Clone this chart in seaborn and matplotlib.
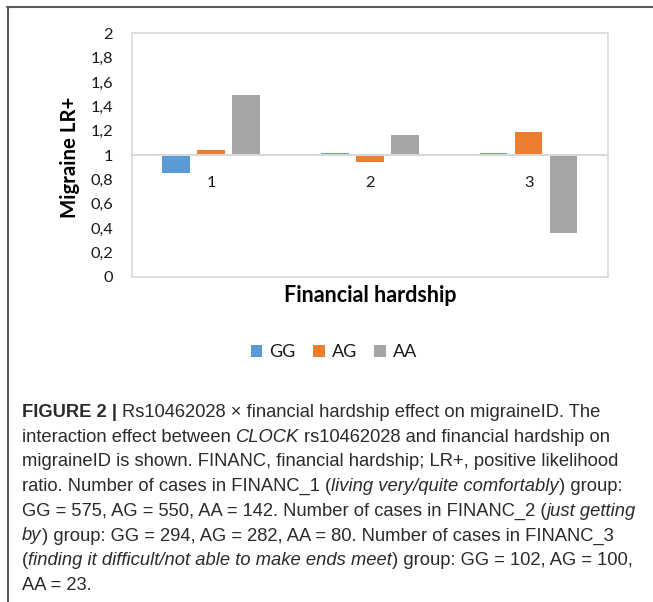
import matplotlib
matplotlib.use("Agg")
import matplotlib.pyplot as plt
import seaborn as sns
import pandas as pd
import numpy as np
from matplotlib.ticker import FuncFormatter
from matplotlib.patches import Rectangle
from matplotlib.lines import Line2D
from matplotlib.font_manager import FontProperties

# ---------------- data ----------------
categories = ["1", "2", "3"]
genotypes = ["GG", "AG", "AA"]
gg_values = [0.85, 1.014, 1.02]
ag_values = [1.044, 0.945, 1.19]
aa_values = [1.49, 1.165, 0.36]
colors = ["#5B9BD5", "#ED7D31", "#A5A5A5"]
yticks = [0, 0.2, 0.4, 0.6, 0.8, 1.0, 1.2, 1.4, 1.6, 1.8, 2.0]
baseline = 1.0

W, H = 653, 602

sns.set_theme(style="white")
plt.rcParams["font.family"] = ["Lato", "DejaVu Sans"]

df = pd.DataFrame({
    "hardship": categories * 3,
    "genotype": np.repeat(genotypes, len(categories)),
    "lr": gg_values + ag_values + aa_values,
})
df["delta"] = df["lr"] - baseline

fig = plt.figure(figsize=(W / 100, H / 100), dpi=100)
fig.patch.set_facecolor("white")

# plot area
left, right, top, bottom = 131.7, 608.0, 33.3, 277.0
ax = fig.add_axes([left / W, 1 - bottom / H, (right - left) / W, (bottom - top) / H])

sns.barplot(data=df, x="hardship", y="delta", hue="genotype",
            order=categories, hue_order=genotypes, palette=colors,
            saturation=1, errorbar=None, width=0.66, gap=0.214,
            bottom=baseline, linewidth=0, ax=ax, legend=False)

ax.set_xlim(-0.5, 2.5)
ax.set_ylim(0, 2)
ax.set_yticks(yticks)
ax.yaxis.set_major_formatter(FuncFormatter(
    lambda v, p: ("%g" % round(v, 1)).replace(".", ",")))

for s in ["left", "right", "top"]:
    ax.spines[s].set_visible(False)
ax.spines["bottom"].set_position(("data", baseline))
ax.spines["bottom"].set_color("#D9D9D9")
ax.spines["bottom"].set_linewidth(1.5)
ax.add_patch(Rectangle((0, 0), 1, 1, transform=ax.transAxes, fill=False,
                       edgecolor="#D9D9D9", linewidth=1.2, clip_on=False, zorder=0))

ax.tick_params(axis="x", length=0, pad=15, labelsize=11.8, labelcolor="#1a1a1a")
ax.tick_params(axis="y", length=0, pad=13.5, labelsize=11.8, labelcolor="#1a1a1a")

ax.set_ylabel("Migraine LR+", fontsize=14.7, fontweight="bold", color="black")
ax.yaxis.label.set_va("center")
ax.yaxis.set_label_coords((70 - left) / (right - left), (bottom - 157) / (bottom - top))
ax.set_xlabel("Financial hardship", fontsize=15.5, fontweight="bold", color="black")
ax.xaxis.label.set_va("center")
ax.xaxis.set_label_coords(0.5, (bottom - 296) / (bottom - top))

handles = list(ax.containers)
fig.legend(handles, genotypes, loc="center", bbox_to_anchor=(334 / W, 1 - 352 / H),
           ncol=3, frameon=False, fontsize=13, handlelength=0.65,
           handleheight=0.65, handletextpad=0.4, columnspacing=0.95,
           labelcolor="#1a1a1a")

# frame
fig.add_artist(Line2D([7 / W, 1], [1 - 7.2 / H] * 2, transform=fig.transFigure,
                      color="#5a5a5a", linewidth=1.5))
fig.add_artist(Line2D([7.5 / W] * 2, [0, 1 - 7 / H], transform=fig.transFigure,
                      color="#5a5a5a", linewidth=1.5))

# caption
CAP_FS = 13.2
cap_family = ["Liberation Sans", "DejaVu Sans"]
renderer = fig.canvas.get_renderer()

def text_w(s, style, weight):
    fp = FontProperties(family=cap_family, style=style, weight=weight, size=CAP_FS)
    w1, _, _ = renderer.get_text_width_height_descent("|" + s + "|", fp, ismath=False)
    w0, _, _ = renderer.get_text_width_height_descent("||", fp, ismath=False)
    return w1 - w0

caption_lines = [
    [("FIGURE 2 |", "normal", "bold"), (" Rs10462028 \u00d7 financial hardship effect on migraineID. The", "normal", "normal")],
    [("interaction effect between ", "normal", "normal"), ("CLOCK", "italic", "normal"), (" rs10462028 and financial hardship on", "normal", "normal")],
    [("migraineID is shown. FINANC, financial hardship; LR+, positive likelihood", "normal", "normal")],
    [("ratio. Number of cases in FINANC_1 (", "normal", "normal"), ("living very/quite comfortably", "italic", "normal"), (") group:", "normal", "normal")],
    [("GG = 575, AG = 550, AA = 142. Number of cases in FINANC_2 (", "normal", "normal"), ("just getting", "italic", "normal")],
    [("by", "italic", "normal"), (") group: GG = 294, AG = 282, AA = 80. Number of cases in FINANC_3", "normal", "normal")],
    [("(", "normal", "normal"), ("finding it difficult/not able to make ends meet", "italic", "normal"), (") group: GG = 102, AG = 100,", "normal", "normal")],
    [("AA = 23.", "normal", "normal")],
]

y0, dy, x0 = 417.0, 24.7, 22.0
for i, segs in enumerate(caption_lines):
    x = x0
    yb = y0 + i * dy
    for txt, style, weight in segs:
        stripped = txt.lstrip(" ")
        lead = text_w(txt[: len(txt) - len(stripped)], style, weight) if len(stripped) < len(txt) else 0
        fig.text((x + lead) / W, 1 - yb / H, stripped.rstrip(" "), fontsize=CAP_FS,
                 family=cap_family, style=style, weight=weight,
                 ha="left", va="baseline", color="#2b2b2b")
        x += text_w(txt, style, weight)

fig.savefig("out.png", dpi=100, facecolor="white")
